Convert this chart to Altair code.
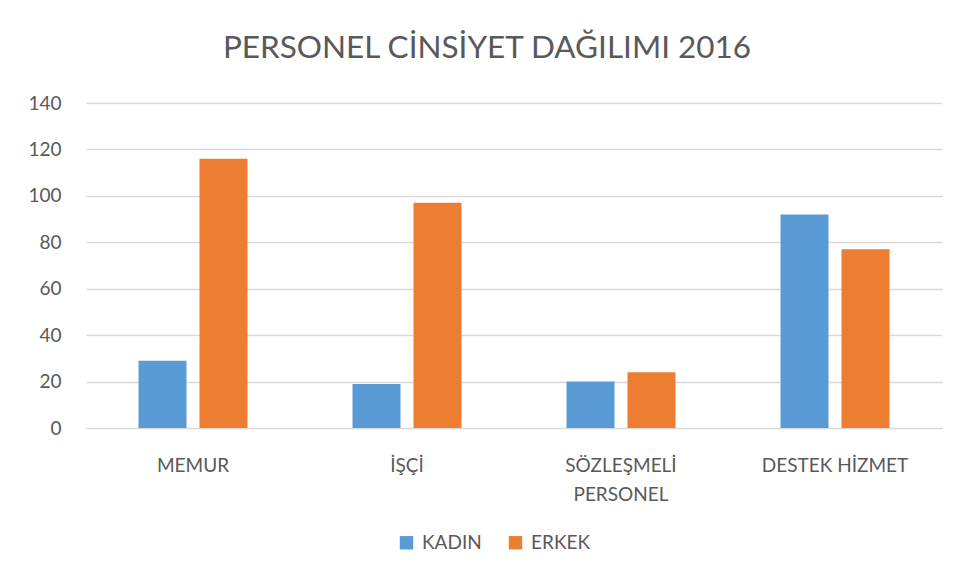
import altair as alt
import pandas as pd

categories = ["MEMUR", "İŞÇİ", "SÖZLEŞMELİ PERSONEL", "DESTEK HİZMET"]
kadin = [29, 19, 20, 92]
erkek = [116, 97, 24, 77]
series = ["KADIN", "ERKEK"]
colors = ["#5B9BD5", "#ED7D31"]

rows = []
for c, k, e in zip(categories, kadin, erkek):
    rows.append({"kategori": c, "cinsiyet": "KADIN", "deger": k})
    rows.append({"kategori": c, "cinsiyet": "ERKEK", "deger": e})
df = pd.DataFrame(rows)

FONT = "Lato"
TXT = "#595959"

chart = alt.Chart(df).mark_bar().encode(
    x=alt.X("kategori:N", sort=categories, title=None,
            scale=alt.Scale(paddingInner=0, paddingOuter=0),
            axis=alt.Axis(labelAngle=0, domain=False, ticks=False,
                          labelFont=FONT, labelFontSize=19, labelColor=TXT,
                          labelPadding=28, labelLineHeight=29,
                          labelExpr="datum.value == 'SÖZLEŞMELİ PERSONEL' ? ['SÖZLEŞMELİ', 'PERSONEL'] : datum.value")),
    xOffset=alt.XOffset("cinsiyet:N", sort=series,
                        scale=alt.Scale(paddingInner=0.213, paddingOuter=0.861)),
    y=alt.Y("deger:Q", title=None,
            scale=alt.Scale(domain=[0, 140]),
            axis=alt.Axis(values=[0, 20, 40, 60, 80, 100, 120, 140], domain=False, ticks=False,
                          grid=True, gridColor="#D9D9D9", gridWidth=1.3,
                          labelFont=FONT, labelFontSize=19, labelColor=TXT, labelPadding=25)),
    color=alt.Color("cinsiyet:N", sort=series,
                    scale=alt.Scale(domain=series, range=colors),
                    legend=alt.Legend(title=None, orient="none", direction="horizontal",
                                      legendX=311, legendY=430,
                                      symbolType="square", symbolSize=180, symbolStrokeWidth=0,
                                      labelFont=FONT, labelFontSize=19, labelColor=TXT,
                                      columnPadding=24, labelOffset=6)),
).properties(
    width=856,
    height=325,
    title=alt.TitleParams("PERSONEL CİNSİYET DAĞILIMI 2016", font=FONT, fontSize=31.5,
                          fontWeight="normal", color=TXT, anchor="middle", dx=-27, offset=30),
    autosize=alt.AutoSizeParams(type="none"),
    padding={"left": 78, "top": 95, "right": 8, "bottom": 130},
).configure_view(stroke=None)

chart.save("out.html", embed_options={"renderer": "svg", "actions": False})
